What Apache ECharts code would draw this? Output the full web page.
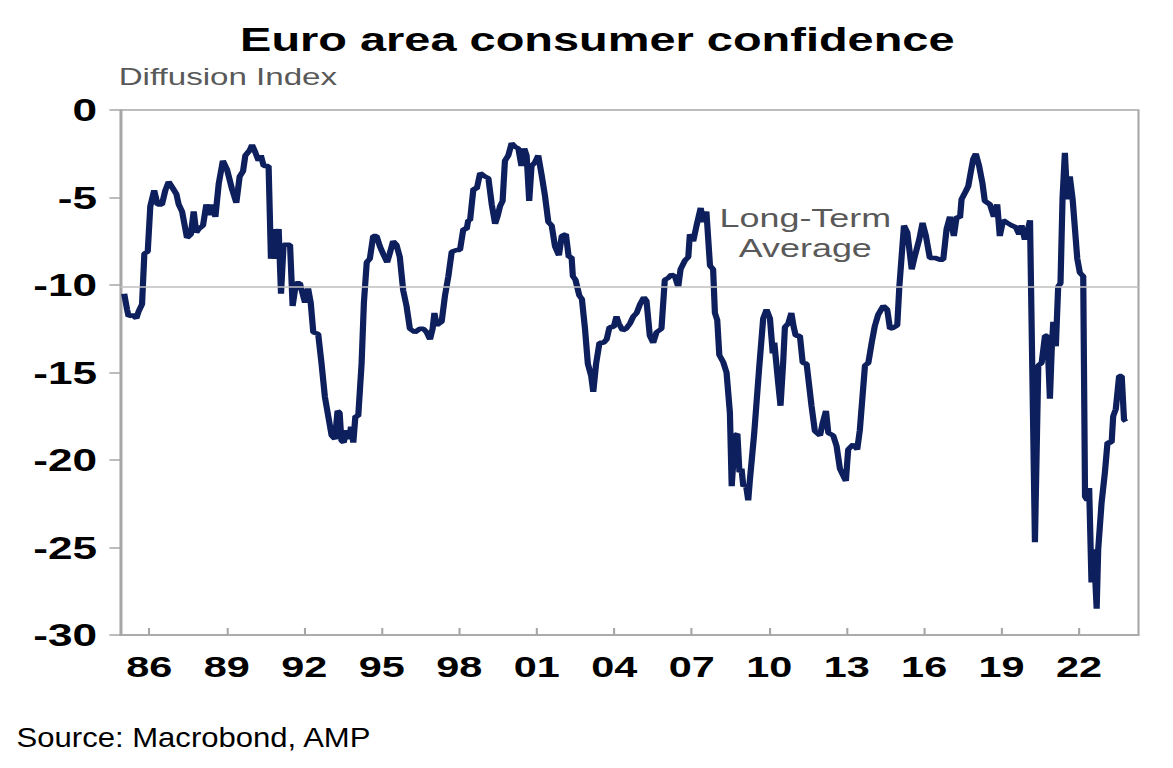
<!DOCTYPE html>
<html>
<head>
<meta charset="utf-8">
<title>Euro area consumer confidence</title>
<script src="https://cdn.jsdelivr.net/npm/echarts@6/dist/echarts.min.js"></script>
<style>
html, body { margin: 0; padding: 0; background: #fff; overflow: hidden; }
/* the original picture is stretched sideways, so draw narrow and widen it */
#chart-0 { width: 850px; height: 768px; transform: scaleX(1.38); transform-origin: 0 0; }
</style>
</head>
<body>
<div id="chart-0"></div>
<script>
var STRETCH = 1.38;
var font = '"Liberation Sans", Arial, sans-serif';

// x ticks (years) and labels
var tickYears = [1986, 1989, 1992, 1995, 1998, 2001, 2004, 2007, 2010, 2013, 2016, 2019, 2022];
var longTermAverage = -10.1;

// decimal year of each reading
var dates = [
    1985.03, 1985.14, 1985.20, 1985.33, 1985.50, 1985.59, 1985.72, 1985.81, 1985.94,
    1986.04, 1986.19, 1986.32, 1986.49, 1986.62, 1986.75, 1986.88,
    1987.05, 1987.14, 1987.27, 1987.46, 1987.61, 1987.72, 1987.82, 1987.91,
    1988.08, 1988.21, 1988.34, 1988.43, 1988.56, 1988.69, 1988.85,
    1989.01, 1989.20, 1989.37, 1989.50, 1989.63, 1989.72, 1989.89, 1989.98,
    1990.10, 1990.23, 1990.32, 1990.43, 1990.62, 1990.71, 1990.84, 1990.92,
    1991.01, 1991.10, 1991.20, 1991.45, 1991.55, 1991.68, 1991.83,
    1992.03, 1992.15, 1992.25, 1992.35, 1992.54, 1992.67, 1992.80, 1992.93,
    1993.06, 1993.19, 1993.29, 1993.37, 1993.44, 1993.53, 1993.63, 1993.74, 1993.81, 1993.90, 1993.98,
    1994.09, 1994.22, 1994.31, 1994.42, 1994.54, 1994.67, 1994.80, 1994.93,
    1995.08, 1995.21, 1995.31, 1995.44, 1995.57, 1995.70, 1995.83, 1995.96,
    1996.09, 1996.28, 1996.48, 1996.61, 1996.74, 1996.87, 1996.97,
    1997.04, 1997.13, 1997.32, 1997.45, 1997.58, 1997.71, 1997.90,
    1998.03, 1998.16, 1998.29, 1998.35, 1998.42, 1998.55, 1998.68, 1998.81,
    1999.00, 1999.13, 1999.26, 1999.39, 1999.48, 1999.58, 1999.68, 1999.77, 1999.90,
    2000.03, 2000.16, 2000.29, 2000.41, 2000.52, 2000.61, 2000.71, 2000.80, 2000.93,
    2001.06, 2001.19, 2001.32, 2001.45, 2001.58, 2001.71, 2001.86, 2001.97,
    2002.13, 2002.24, 2002.35, 2002.40, 2002.50, 2002.65, 2002.75, 2002.87, 2002.98,
    2003.11, 2003.19, 2003.30, 2003.43, 2003.59, 2003.71, 2003.82, 2003.98,
    2004.09, 2004.18, 2004.33, 2004.46, 2004.61, 2004.74, 2004.87,
    2005.00, 2005.15, 2005.25, 2005.38, 2005.51, 2005.64, 2005.83, 2005.96,
    2006.09, 2006.22, 2006.35, 2006.48, 2006.57, 2006.74, 2006.87, 2006.93,
    2007.06, 2007.19, 2007.35, 2007.45, 2007.57, 2007.71, 2007.83, 2007.90, 2007.99,
    2008.07, 2008.22, 2008.35, 2008.48, 2008.55, 2008.68, 2008.77, 2008.85, 2008.93,
    2009.00, 2009.10, 2009.19, 2009.25, 2009.42, 2009.61, 2009.77, 2009.90,
    2010.03, 2010.14, 2010.20, 2010.35, 2010.44, 2010.54, 2010.61, 2010.74, 2010.86, 2010.95,
    2011.03, 2011.19, 2011.30, 2011.45, 2011.64, 2011.77, 2011.97,
    2012.07, 2012.20, 2012.29, 2012.48, 2012.61, 2012.74, 2012.87, 2012.97,
    2013.06, 2013.26, 2013.41, 2013.51, 2013.71, 2013.84, 2013.97,
    2014.09, 2014.22, 2014.42, 2014.57, 2014.68, 2014.80, 2014.96,
    2015.04, 2015.13, 2015.22, 2015.35, 2015.52, 2015.64, 2015.81, 2015.94,
    2016.07, 2016.22, 2016.42, 2016.61, 2016.74, 2016.87,
    2017.00, 2017.15, 2017.26, 2017.39, 2017.45, 2017.61, 2017.71, 2017.80, 2017.90,
    2018.00, 2018.13, 2018.26, 2018.35, 2018.55, 2018.70, 2018.83, 2018.93,
    2019.06, 2019.22, 2019.39, 2019.55, 2019.68, 2019.77, 2019.90, 2019.99,
    2020.10, 2020.29, 2020.42, 2020.55, 2020.68, 2020.77, 2020.87, 2020.94,
    2021.00, 2021.10, 2021.19, 2021.28, 2021.36, 2021.45, 2021.54, 2021.64, 2021.75, 2021.84, 2021.93,
    2022.03, 2022.16, 2022.23, 2022.32, 2022.39, 2022.48, 2022.57, 2022.68, 2022.74, 2022.87,
    2023.00, 2023.10, 2023.26, 2023.32, 2023.42, 2023.55, 2023.65, 2023.74, 2023.81
];

// consumer confidence, diffusion index
var confidence = [
    -10.5, -11.4, -11.8, -11.7, -11.9, -11.5, -11.1, -8.2, -8.1,
    -5.5, -4.6, -5.4, -5.4, -4.6, -4.1, -4.4,
    -4.8, -5.4, -5.8, -7.3, -7.1, -5.8, -7.0, -6.8,
    -6.6, -5.4, -6.0, -5.4, -6.1, -4.2, -2.9,
    -3.4, -4.5, -5.3, -3.8, -3.5, -2.6, -2.3, -2.0,
    -2.4, -2.9, -2.6, -3.2, -3.2, -8.5, -6.8, -8.5,
    -6.8, -10.5, -7.7, -7.7, -11.2, -9.9, -9.9,
    -11.0, -10.2, -11.0, -12.7, -12.8, -14.5, -16.4, -17.5,
    -18.6, -18.8, -17.2, -17.3, -18.9, -19.0, -18.3, -18.8, -18.1, -19.0, -17.5,
    -17.5, -14.5, -11.0, -8.7, -8.5, -7.2, -7.2, -7.8,
    -8.3, -8.7, -8.2, -7.5, -7.7, -8.4, -10.3, -11.2,
    -12.5, -12.7, -12.5, -12.5, -12.7, -13.1, -12.5,
    -11.6, -12.3, -12.1, -10.6, -9.5, -8.1, -8.0,
    -8.0, -6.8, -6.8, -6.3, -6.3, -4.5, -4.5, -3.6,
    -3.8, -3.9, -5.4, -6.5, -6.1, -5.5, -5.2, -2.9, -2.6,
    -1.9, -2.1, -2.2, -3.2, -2.2, -2.6, -5.2, -3.2, -3.0,
    -2.6, -3.7, -4.9, -6.4, -6.6, -7.8, -8.3, -7.2,
    -7.1, -8.4, -8.4, -9.5, -9.7, -10.6, -10.8, -12.5, -14.5,
    -15.2, -16.1, -14.5, -13.3, -13.3, -13.1, -12.4, -12.4,
    -11.8, -12.2, -12.6, -12.5, -12.2, -11.8, -11.6,
    -11.1, -10.7, -10.9, -12.9, -13.3, -12.7, -12.5, -9.7,
    -9.6, -9.4, -9.5, -10.1, -9.1, -8.6, -8.4, -7.1,
    -7.5, -6.6, -5.6, -6.4, -5.8, -8.9, -9.1, -11.6, -12.0,
    -14.0, -14.4, -15.0, -17.3, -21.5, -18.6, -18.5, -20.7, -20.5,
    -21.5, -21.4, -22.3, -21.2, -18.5, -14.8, -11.9, -11.4,
    -11.9, -13.9, -13.3, -15.6, -16.9, -14.5, -12.4, -12.2, -11.6, -12.4,
    -12.9, -12.9, -14.45, -14.5, -16.9, -18.35, -18.6,
    -17.9, -17.2, -18.45, -18.6, -19.2, -20.5, -20.9, -21.2,
    -19.4, -19.1, -19.4, -18.3, -14.6, -14.45, -13.3,
    -12.35, -11.7, -11.2, -11.4, -12.5, -12.45, -12.3,
    -10.1, -8.35, -6.6, -7.0, -9.1, -8.35, -7.4, -6.45,
    -7.2, -8.45, -8.45, -8.55, -8.55, -6.8,
    -6.1, -7.2, -6.1, -6.15, -5.1, -4.65, -4.35, -3.6, -2.8,
    -2.5, -3.2, -4.2, -5.2, -5.4, -6.1, -5.4, -7.2,
    -6.3, -6.45, -6.6, -6.7, -7.1, -6.6, -7.4, -7.0,
    -6.3, -24.7, -14.6, -14.45, -12.9, -12.9, -16.5, -13.7,
    -12.1, -13.5, -10.1, -9.9, -5.0, -2.45, -5.1, -3.8, -5.1, -6.8, -8.5,
    -9.3, -9.5, -22.1, -22.3, -21.6, -27.0, -25.1, -28.5, -25.1, -22.45,
    -20.7, -19.0, -19.0, -17.5, -17.1, -15.2, -15.2, -17.7, -17.8
];

var seriesData = [];
for (var i = 0; i < dates.length; i++) {
    seriesData.push([dates[i], confidence[i]]);
}

var chart = echarts.init(document.getElementById('chart-0'), null, { renderer: 'svg' });
var gray = '#a6a6a6';

var option = {
    animation: false,
    title: [{
        text: 'Euro area consumer confidence',
        left: 169,
        top: 17,
        textStyle: { fontFamily: font, fontSize: 34, fontWeight: 'bold', color: '#000' }
    }, {
        text: 'Diffusion Index',
        left: 81,
        top: 60,
        textStyle: { fontFamily: font, fontSize: 24, fontWeight: 'normal', color: '#595959' }
    }],
    grid: {
        left: 87.3,
        right: 25,
        top: 110,
        bottom: 133,
        show: true,
        borderColor: gray,
        borderWidth: 1.5
    },
    xAxis: {
        type: 'value',
        min: 1984.885,
        max: 2024.3,
        splitLine: { show: false },
        // keep the axis at the bottom, not at y = 0 (which is the top here)
        axisLine: { onZero: false, lineStyle: { color: gray, width: 1.5 } },
        axisTick: {
            inside: true,
            length: 7,
            customValues: tickYears,
            lineStyle: { color: gray, width: 1.5 }
        },
        axisLabel: {
            customValues: tickYears,
            formatter: function(v) {
                return String(Math.round(v)).slice(2);
            },
            margin: 17,
            fontFamily: font,
            fontSize: 30,
            fontWeight: 'bold',
            color: '#000'
        }
    },
    yAxis: {
        type: 'value',
        min: -30,
        max: 0,
        interval: 5,
        splitLine: { show: false },
        axisLine: { show: true, onZero: false, lineStyle: { color: gray, width: 1.5 } },
        axisTick: { show: true, length: 8, lineStyle: { color: gray, width: 1.5 } },
        axisLabel: {
            margin: 17,
            fontFamily: font,
            fontSize: 32,
            fontWeight: 'bold',
            color: '#000'
        }
    },
    series: [{
        type: 'line',
        data: seriesData,
        showSymbol: false,
        symbol: 'none',
        lineStyle: { color: '#0d1f5c', width: 4.5 },
        markLine: {
            silent: true,
            symbol: 'none',
            label: { show: false },
            lineStyle: { color: '#bfbfbf', width: 1.5, type: 'solid' },
            data: [{ yAxis: longTermAverage }]
        },
        markPoint: {
            silent: true,
            symbol: 'circle',
            symbolSize: 1,
            itemStyle: { color: 'rgba(0,0,0,0)' },
            label: {
                show: true,
                position: 'inside',
                formatter: 'Long-Term\nAverage',
                fontFamily: font,
                fontSize: 26,
                lineHeight: 30,
                color: '#595959'
            },
            data: [{ coord: [2011.4, -7.05] }]
        }
    }],
    graphic: [{
        type: 'text',
        x: 12,
        y: 723,
        scaleX: 1.11 / STRETCH,
        style: {
            text: 'Source: Macrobond, AMP',
            font: '28px "Liberation Sans", Arial, sans-serif',
            fill: '#000'
        }
    }]
};
chart.setOption(option);
</script>
</body>
</html>
